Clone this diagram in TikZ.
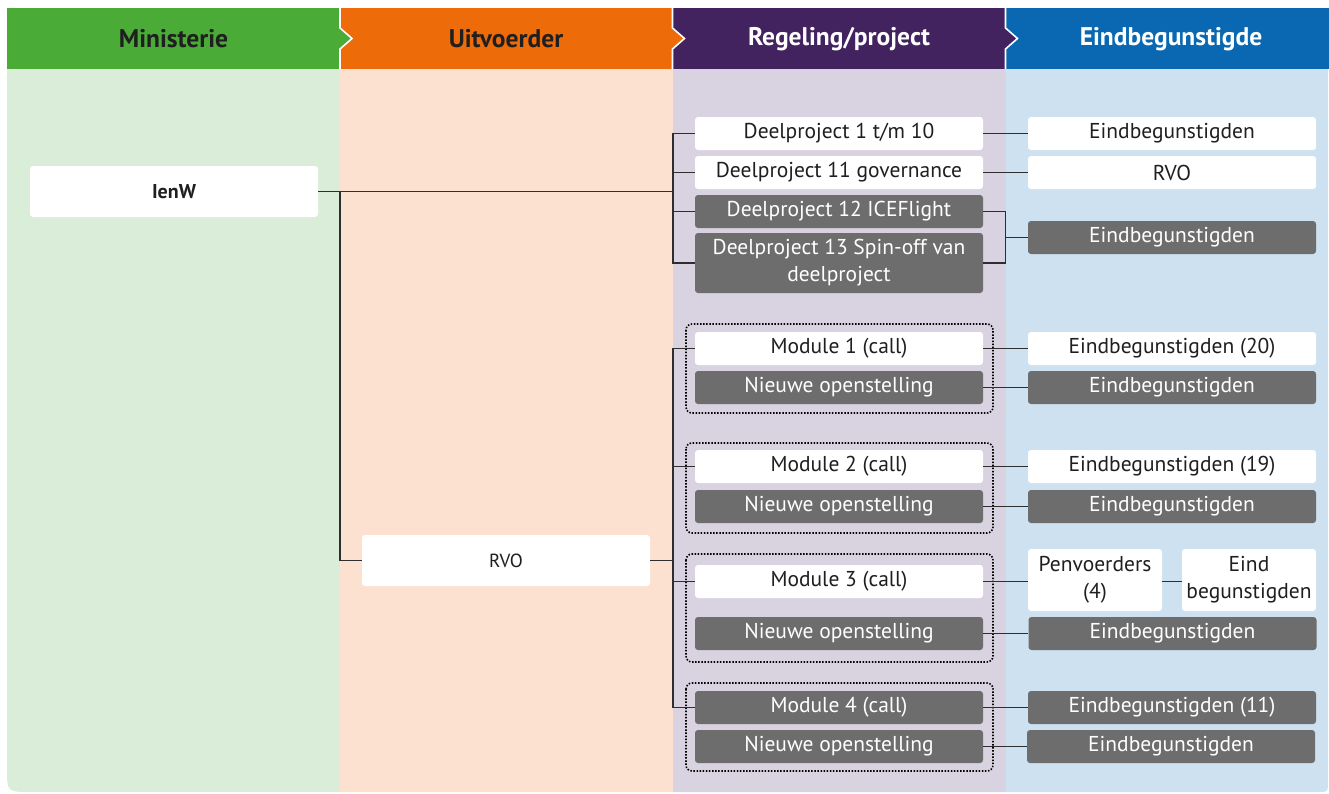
\documentclass[tikz,border=0pt]{standalone}
\usepackage{fontspec}
\setmainfont{PT Sans}
\definecolor{hdrgreen}{HTML}{4AAB37}
\definecolor{hdrorange}{HTML}{EE6B0A}
\definecolor{hdrpurple}{HTML}{42235F}
\definecolor{hdrblue}{HTML}{0A68B2}
\definecolor{bdgreen}{HTML}{DAEDD8}
\definecolor{bdorange}{HTML}{FCE1D0}
\definecolor{bdpurple}{HTML}{D9D2E0}
\definecolor{bdblue}{HTML}{CDE1F0}
\definecolor{boxgray}{HTML}{6D6D6D}
\definecolor{txt}{HTML}{1F1F1F}
\definecolor{linec}{HTML}{2E2E2E}
\begin{document}
\begin{tikzpicture}[x=1pt,y=-1pt,
  base/.style={rounded corners=3pt,inner sep=0pt,align=center,minimum width=288pt,minimum height=33pt,font=\fontsize{21.5}{27}\selectfont},
  wbox/.style={base,fill=white,text=txt},
  gbox/.style={base,fill=boxgray,text=white},
  hdr/.style={font=\fontsize{25.5}{30}\selectfont\bfseries},
  conn/.style={draw=linec,line width=1.4pt},
  grp/.style={draw=black,line width=1.6pt,dash pattern=on 1.5pt off 1.6pt,rounded corners=6pt}]
\useasboundingbox (0,0) rectangle (1329,793);
% body
\begin{scope}
\clip (7,69) -- (1328,69) -- (1328,782) .. controls (1328,792) .. (1318,792) -- (31,792) .. controls (7,792) .. (7,768) -- cycle;
\fill[bdgreen] (0,60) rectangle (340,800);
\fill[bdorange] (340,60) rectangle (672.5,800);
\fill[bdpurple] (672.5,60) rectangle (1005.5,800);
\fill[bdblue] (1005.5,60) rectangle (1330,800);
\end{scope}
% header
\fill[hdrgreen] (7,8) rectangle (340,69);
\fill[hdrorange] (340,8) rectangle (672.5,69);
\fill[hdrpurple] (672.5,8) rectangle (1005.5,69);
\fill[hdrblue] (1005.5,8) rectangle (1329,69);
\fill[hdrgreen] (340,28) -- (352,38.5) -- (340,49) -- cycle;
\fill[hdrorange] (672.5,28) -- (684.5,38.5) -- (672.5,49) -- cycle;
\fill[hdrpurple] (1005.5,28) -- (1017.5,38.5) -- (1005.5,49) -- cycle;
\foreach \sx in {340,672.5,1005.5}
  \draw[white,line width=1.6pt] (\sx,8) -- (\sx,28) -- (\sx+12,38.5) -- (\sx,49) -- (\sx,69);
\node[hdr,text=txt] (h1) at (173.5,39) {Ministerie};
\node[hdr,text=txt] (h2) at (506,39) {Uitvoerder};
\node[hdr,text=white] (h3) at (839,39) {Regeling/project};
\node[hdr,text=white] (h4) at (1171,39) {Eindbegunstigde};
% left nodes
\node[wbox,minimum height=51pt,font=\fontsize{20}{24}\selectfont\bfseries] (ienw) at (174,191.5) {IenW};
\node[wbox,minimum height=51pt,font=\fontsize{19}{23}\selectfont] (rvo1) at (506,560.5) {RVO};
% deelprojecten
\node[wbox] (dp1) at (839,133.5) {Deelproject 1 t/m 10};
\node[wbox] (dp11) at (839,172.5) {Deelproject 11 governance};
\node[gbox] (dp12) at (839,211.5) {Deelproject 12 ICEFlight};
\node[gbox,minimum height=60pt] (dp13) at (839,263) {Deelproject 13 Spin-off van\\deelproject};
\node[wbox] (eb1) at (1172,133.5) {Eindbegunstigden};
\node[wbox] (rvo2) at (1172,172.5) {RVO};
\node[gbox] (eb2) at (1172,237.5) {Eindbegunstigden};
% modules
\node[wbox] (m1) at (839,348.5) {Module 1 (call)};
\node[gbox] (no1) at (839,387.5) {Nieuwe openstelling};
\node[wbox] (eb20) at (1172,348.5) {Eindbegunstigden (20)};
\node[gbox] (ebn1) at (1172,387.5) {Eindbegunstigden};
\node[wbox] (m2) at (839,466.5) {Module 2 (call)};
\node[gbox] (no2) at (839,506.5) {Nieuwe openstelling};
\node[wbox] (eb19) at (1172,466.5) {Eindbegunstigden (19)};
\node[gbox] (ebn2) at (1172,506.5) {Eindbegunstigden};
\node[wbox] (m3) at (839,581.5) {Module 3 (call)};
\node[gbox] (no3) at (839,633.5) {Nieuwe openstelling};
\node[wbox,minimum width=134pt,minimum height=62pt] (pv) at (1095,580) {Penvoerders\\(4)};
\node[wbox,minimum width=134pt,minimum height=62pt] (ebd) at (1249,580) {Eind\\begunstigden};
\node[gbox] (ebn3) at (1172.5,633.5) {Eindbegunstigden};
\node[gbox] (m4) at (839,707.5) {Module 4 (call)};
\node[gbox] (no4) at (839,746.5) {Nieuwe openstelling};
\node[gbox] (eb11) at (1172,707.5) {Eindbegunstigden (11)};
\node[gbox] (ebn4) at (1171,746.5) {Eindbegunstigden};
% group frames
\draw[grp] (686,324) rectangle (993,413);
\draw[grp] (686,443) rectangle (993,533);
\draw[grp] (686,554) rectangle (993,662);
\draw[grp] (686,683) rectangle (993,771);
% junction coordinates
\coordinate (j0) at (340,191.5);
\coordinate (j1) at (673,191.5);
\coordinate (j2) at (673,560.5);
\coordinate (j3) at (1005.5,237.5);
% connectors
\draw[conn] (ienw.east) -- (j1);
\draw[conn] (j0) |- (rvo1.west);
\draw[conn] (rvo1.east) -- (j2);
\draw[conn] (dp1.west) -| (j1) |- (dp13.west);
\draw[conn] (dp11.west) -- (dp11.west -| j1);
\draw[conn] (dp12.west) -- (dp12.west -| j1);
\draw[conn] (m1.west) -| (j2) |- (m4.west);
\draw[conn] (m2.west) -- (m2.west -| j2);
\draw[conn] (m3.west) -- (m3.west -| j2);
\draw[conn] (dp1.east) -- (eb1.west);
\draw[conn] (dp11.east) -- (rvo2.west);
\draw[conn] (dp12.east) -| (j3) |- (dp13.east);
\draw[conn] (j3) -- (eb2.west);
\draw[conn] (m1.east) -- (eb20.west);
\draw[conn] (no1.east) -- (ebn1.west);
\draw[conn] (m2.east) -- (eb19.west);
\draw[conn] (no2.east) -- (ebn2.west);
\draw[conn] (m3.east) -- (m3.east -| pv.west);
\draw[conn] (pv.east |- m3.east) -- (ebd.west |- m3.east);
\draw[conn] (no3.east) -- (ebn3.west);
\draw[conn] (m4.east) -- (eb11.west);
\draw[conn] (no4.east) -- (ebn4.west);
\end{tikzpicture}
\end{document}
